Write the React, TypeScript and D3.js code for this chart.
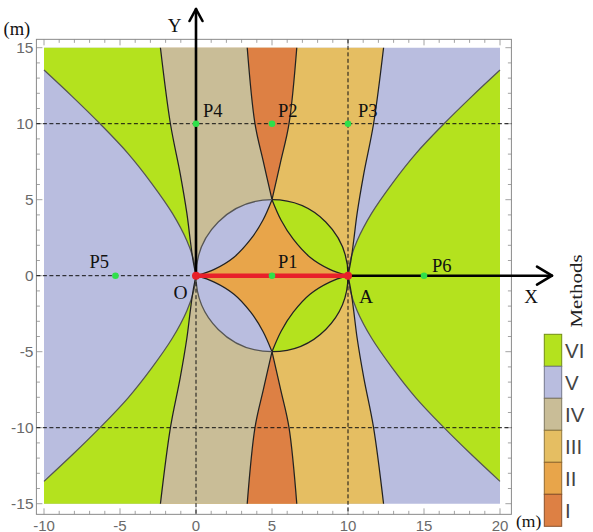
import React from 'react';
import * as d3 from 'd3';

const W = 593;
const H = 532;

// Plot domain and frame extents (metres)
const xDomain = [-10, 20];
const yDomain = [-15, 15];
const xFrame = [-10.5, 20.75];
const yFrame = [-15.7, 15.55];

const xTickLabels = [-10, -5, 0, 5, 10, 15, 20];
const yTickLabels = [-15, -10, -5, 0, 5, 10, 15];

// Baseline end points O and A, and the circle on OA as diameter
const baselineX = [0, 10];
const circleCenter = [5, 0];
const circleRadius = 5;

// Region boundaries on the O side, upper half (x, y)
const outerBoundary = [[0, 0], [-0.15, 1], [-0.6, 2.3], [-1.55, 4.1], [-2.92, 6.08], [-4.48, 8.05], [-6.3, 9.98], [-8.1, 11.75], [-10, 13.53]];
const wedgeBoundary = [[0, 0], [-0.2, 1.04], [-0.38, 2.35], [-0.6, 4.1], [-1.04, 6.72], [-1.68, 9.98], [-2.34, 15]];
const diamondEdge = [[0, 0], [1.2, 0.42], [2.5, 1.22], [3.6, 2.4], [4.4, 3.65], [5, 5]];
const lensEdge = [[5, 5], [5.57, 7.5], [6.12, 10], [6.63, 15]];

// Legend
const methodLabels = ['VI', 'V', 'IV', 'III', 'II', 'I'];
const methodColors = ['#b4e21e', '#b9bddf', '#c9bd97', '#e5be62', '#e8a54a', '#dd8044'];

// Sample points
const pointNames = ['P1', 'P2', 'P3', 'P4', 'P5', 'P6'];
const pointX = [5, 5, 10, 0, -5.3, 15];
const pointY = [0, 10, 10, 10, 0, 0];

// Dashed reference lines
const hGridY = [10, -10];
const vGridX = [10];

type Pt = number[];

const sx = d3.scaleLinear().domain(xDomain).range([44, 500]);
const sy = d3.scaleLinear().domain(yDomain).range([503.7, 47.7]);

const smooth = d3
  .line<Pt>()
  .x((d) => sx(d[0]))
  .y((d) => sy(d[1]))
  .curve(d3.curveCatmullRom.alpha(0.5));

const seg = (pts: Pt[]) => smooth(pts) as string;
const closed = (...parts: string[]) =>
  parts.map((p, i) => (i === 0 ? p : p.replace(/^M/, 'L'))).join('') + 'Z';
const flipY = (pts: Pt[]) => pts.map(([x, y]) => [x, -y]);
const flipX = (pts: Pt[]) => pts.map(([x, y]) => [baselineX[0] + baselineX[1] - x, y]);
const rev = (pts: Pt[]) => pts.slice().reverse();
const straight = (a: Pt, b: Pt) => seg([a, b]);

const rx = sx(circleRadius) - sx(0);
const ry = sy(0) - sy(circleRadius);
const arcTo = (p: Pt, sweep: number) => `A${rx},${ry} 0 0 ${sweep} ${sx(p[0])},${sy(p[1])}`;

const O: Pt = [baselineX[0], 0];
const A: Pt = [baselineX[1], 0];
const top: Pt = [circleCenter[0], circleCenter[1] + circleRadius];
const bottom: Pt = [circleCenter[0], circleCenter[1] - circleRadius];

const lensLeft = flipX(lensEdge);
const wedgeTop = wedgeBoundary[wedgeBoundary.length - 1];
const outerEnd = outerBoundary[outerBoundary.length - 1];

function regions() {
  const [cVI, cV, cIV, cIII, cII, cI] = methodColors;
  const out: { d: string; fill: string }[] = [];
  // background: method V
  out.push({
    d: closed(
      straight([xDomain[0], yDomain[0]], [xDomain[1], yDomain[0]]),
      straight([xDomain[1], yDomain[0]], [xDomain[1], yDomain[1]]),
      straight([xDomain[1], yDomain[1]], [xDomain[0], yDomain[1]])
    ),
    fill: cV,
  });
  // method VI wedges on the O side
  for (const f of [(p: Pt[]) => p, flipY]) {
    out.push({
      d: closed(
        seg(f(outerBoundary)),
        straight(f([outerEnd])[0], f([[xDomain[0], yDomain[1]]])[0]),
        straight(f([[xDomain[0], yDomain[1]]])[0], f([wedgeTop])[0]),
        seg(rev(f(wedgeBoundary)))
      ),
      fill: cVI,
    });
  }
  // method VI on the A side
  const rOuter = flipX(outerBoundary);
  out.push({
    d: closed(
      seg(rOuter),
      straight(rOuter[rOuter.length - 1], flipY([rOuter[rOuter.length - 1]])[0]),
      seg(rev(flipY(rOuter)))
    ),
    fill: cVI,
  });
  // central band: method III
  const rWedge = flipX(wedgeBoundary);
  out.push({
    d: closed(
      seg(wedgeBoundary),
      straight(wedgeTop, rWedge[rWedge.length - 1]),
      seg(rev(rWedge)),
      seg(flipY(rWedge)),
      straight(flipY([rWedge[rWedge.length - 1]])[0], flipY([wedgeTop])[0]),
      seg(rev(flipY(wedgeBoundary)))
    ),
    fill: cIII,
  });
  // method IV above / below the circle on the O side
  out.push({
    d: closed(
      seg(wedgeBoundary),
      straight(wedgeTop, lensLeft[lensLeft.length - 1]),
      seg(rev(lensLeft)),
      arcTo(O, 0)
    ),
    fill: cIV,
  });
  out.push({
    d: closed(
      seg(flipY(wedgeBoundary)),
      straight(flipY([wedgeTop])[0], flipY([lensLeft[lensLeft.length - 1]])[0]),
      seg(rev(flipY(lensLeft))),
      arcTo(O, 1)
    ),
    fill: cIV,
  });
  // method I lenses
  for (const f of [(p: Pt[]) => p, flipY]) {
    out.push({
      d: closed(
        seg(f(lensLeft)),
        straight(f([lensLeft[lensLeft.length - 1]])[0], f([lensEdge[lensEdge.length - 1]])[0]),
        seg(rev(f(lensEdge)))
      ),
      fill: cI,
    });
  }
  // inside the circle: V on the O half, VI on the A half
  out.push({ d: `M${sx(top[0])},${sy(top[1])}${arcTo(bottom, 0)}Z`, fill: cV });
  out.push({ d: `M${sx(top[0])},${sy(top[1])}${arcTo(bottom, 1)}Z`, fill: cVI });
  // method II diamond
  out.push({
    d: closed(
      seg(diamondEdge),
      seg(rev(flipX(diamondEdge))),
      seg(flipY(flipX(diamondEdge))),
      seg(rev(flipY(diamondEdge)))
    ),
    fill: cII,
  });
  return out;
}

function boundaries() {
  const dark = '#222';
  const gray = '#555';
  const out: { d: string; stroke: string }[] = [];
  const mirrors = [(p: Pt[]) => p, flipY, flipX, (p: Pt[]) => flipX(flipY(p))];
  for (const f of mirrors) {
    out.push({ d: seg(f(outerBoundary)), stroke: gray });
    out.push({ d: seg(f(wedgeBoundary)), stroke: dark });
    out.push({ d: seg(f(diamondEdge)), stroke: dark });
    out.push({ d: seg(f(lensEdge)), stroke: dark });
  }
  out.push({ d: `M${sx(top[0])},${sy(top[1])}${arcTo(bottom, 0)}`, stroke: gray });
  out.push({ d: `M${sx(top[0])},${sy(top[1])}${arcTo(bottom, 1)}`, stroke: dark });
  return out;
}

const serif = '"Liberation Serif", "Times New Roman", serif';
const sans = '"Liberation Sans", Arial, sans-serif';

// label offsets (px) of the sample point names from their markers
const labelDx = [6, 6, 10, 7, -26, 8];
const labelDy = [-8, -7, -7, -7, -8, -4];

export default function App() {
  const fx0 = sx(xFrame[0]);
  const fx1 = sx(xFrame[1]);
  const fy0 = sy(yFrame[1]);
  const fy1 = sy(yFrame[0]);
  const xMinor = d3.range(xDomain[0], xDomain[1] + 1, 1);
  const yMinor = d3.range(yDomain[0], yDomain[1] + 1, 1);
  const tickCol = '#8a8a8a';
  const dash = '4,2.5';

  const legendX = 544.3;
  const legendTop = 334.3;
  const rowH = 32;

  return (
    <svg
      width={W}
      height={H}
      viewBox={`0 0 ${W} ${H}`}
      style={{ position: 'absolute', left: 0, top: 0, background: '#fff' }}
    >
      <rect x={0} y={0} width={W} height={H} fill="#fff" />
      {regions().map((r, i) => (
        <path key={`r${i}`} d={r.d} fill={r.fill} stroke="none" />
      ))}
      {boundaries().map((b, i) => (
        <path key={`b${i}`} d={b.d} fill="none" stroke={b.stroke} strokeWidth={1.25} />
      ))}

      {/* frame with ticks */}
      <rect x={fx0} y={fy0} width={fx1 - fx0} height={fy1 - fy0} fill="none" stroke={tickCol} strokeWidth={1} />
      {xMinor.map((v) => {
        const len = v % 5 === 0 ? 6 : 3.5;
        return (
          <g key={`xt${v}`} stroke={tickCol} strokeWidth={0.8}>
            <line x1={sx(v)} x2={sx(v)} y1={fy1} y2={fy1 - len} />
            <line x1={sx(v)} x2={sx(v)} y1={fy0} y2={fy0 + len} />
          </g>
        );
      })}
      {yMinor.map((v) => {
        const len = v % 5 === 0 ? 6 : 3.5;
        return (
          <g key={`yt${v}`} stroke={tickCol} strokeWidth={0.8}>
            <line x1={fx0} x2={fx0 + len} y1={sy(v)} y2={sy(v)} />
            <line x1={fx1} x2={fx1 - len} y1={sy(v)} y2={sy(v)} />
          </g>
        );
      })}
      {yTickLabels.map((v) => (
        <text key={`yl${v}`} x={33.5} y={sy(v)} dy="0.36em" textAnchor="end" fontFamily={sans} fontSize={15.5} fill="#6a6a6a">
          {v}
        </text>
      ))}
      {xTickLabels.map((v) => (
        <text key={`xl${v}`} x={sx(v)} y={530.5} textAnchor="middle" fontFamily={sans} fontSize={15} fill="#6a6a6a">
          {v}
        </text>
      ))}

      {/* dashed reference lines */}
      <g stroke="#111" strokeWidth={1} strokeDasharray={dash} fill="none">
        {hGridY.map((v) => (
          <line key={`hg${v}`} x1={fx0} x2={fx1} y1={sy(v)} y2={sy(v)} />
        ))}
        {vGridX.map((v) => (
          <line key={`vg${v}`} x1={sx(v)} x2={sx(v)} y1={fy0} y2={fy1} />
        ))}
        <line x1={fx0} x2={sx(O[0])} y1={sy(0)} y2={sy(0)} />
        <line x1={sx(O[0])} x2={sx(O[0])} y1={sy(0)} y2={fy1} />
      </g>

      {/* axes arrows */}
      <g stroke="#000" strokeWidth={2.6} fill="none" strokeLinecap="round" strokeLinejoin="round">
        <line x1={sx(0)} x2={sx(0)} y1={sy(0)} y2={9} />
        <polyline points={`${sx(0) - 6.5},21 ${sx(0)},9 ${sx(0) + 6.5},21`} />
        <line x1={sx(A[0])} x2={552} y1={sy(0)} y2={sy(0)} />
        <polyline points={`537,${sy(0) - 9} 552,${sy(0)} 537,${sy(0) + 9}`} />
      </g>

      {/* baseline OA */}
      <line x1={sx(O[0])} x2={sx(A[0])} y1={sy(0)} y2={sy(0)} stroke="#e8202a" strokeWidth={4.5} />
      <circle cx={sx(O[0])} cy={sy(0)} r={4} fill="#e8202a" />
      <circle cx={sx(A[0])} cy={sy(0)} r={4} fill="#e8202a" />

      {/* sample points */}
      {pointNames.map((n, i) => (
        <g key={n}>
          <circle cx={sx(pointX[i])} cy={sy(pointY[i])} r={3.3} fill="#2fe04a" />
          <text x={sx(pointX[i]) + labelDx[i]} y={sy(pointY[i]) + labelDy[i]} fontFamily={serif} fontSize={18.5} fill="#111">
            {n}
          </text>
        </g>
      ))}

      {/* axis names */}
      <text x={174.5} y={32} textAnchor="middle" fontFamily={serif} fontSize={19} fill="#111">Y</text>
      <text x={531} y={303} textAnchor="middle" fontFamily={serif} fontSize={19} fill="#111">X</text>
      <text x={180.5} y={299} textAnchor="middle" fontFamily={serif} fontSize={19.5} fill="#111">O</text>
      <text x={366} y={303} textAnchor="middle" fontFamily={serif} fontSize={19.5} fill="#111">A</text>
      <text x={3.5} y={35} fontFamily={serif} fontSize={18.5} fill="#111">(m)</text>
      <text x={516} y={526.5} fontFamily={serif} fontSize={17.5} fill="#111">(m)</text>

      {/* legend */}
      <text
        x={576}
        y={291}
        transform="rotate(-90 576 291)"
        textAnchor="middle"
        dominantBaseline="central"
        fontFamily={serif}
        fontSize={17}
        textLength={73}
        lengthAdjust="spacingAndGlyphs"
        fill="#222"
      >
        Methods
      </text>
      {methodLabels.map((m, i) => {
        const c = d3.color(methodColors[i])!;
        return (
          <g key={m}>
            <rect
              x={legendX}
              y={legendTop + i * rowH}
              width={17.4}
              height={rowH}
              fill={methodColors[i]}
              stroke={c.darker(1.3).formatHex()}
              strokeWidth={1}
            />
            <text
              x={565}
              y={legendTop + i * rowH + rowH / 2}
              dy="0.36em"
              fontFamily={sans}
              fontSize={20.5}
              fill="#444"
            >
              {m}
            </text>
          </g>
        );
      })}
    </svg>
  );
}
